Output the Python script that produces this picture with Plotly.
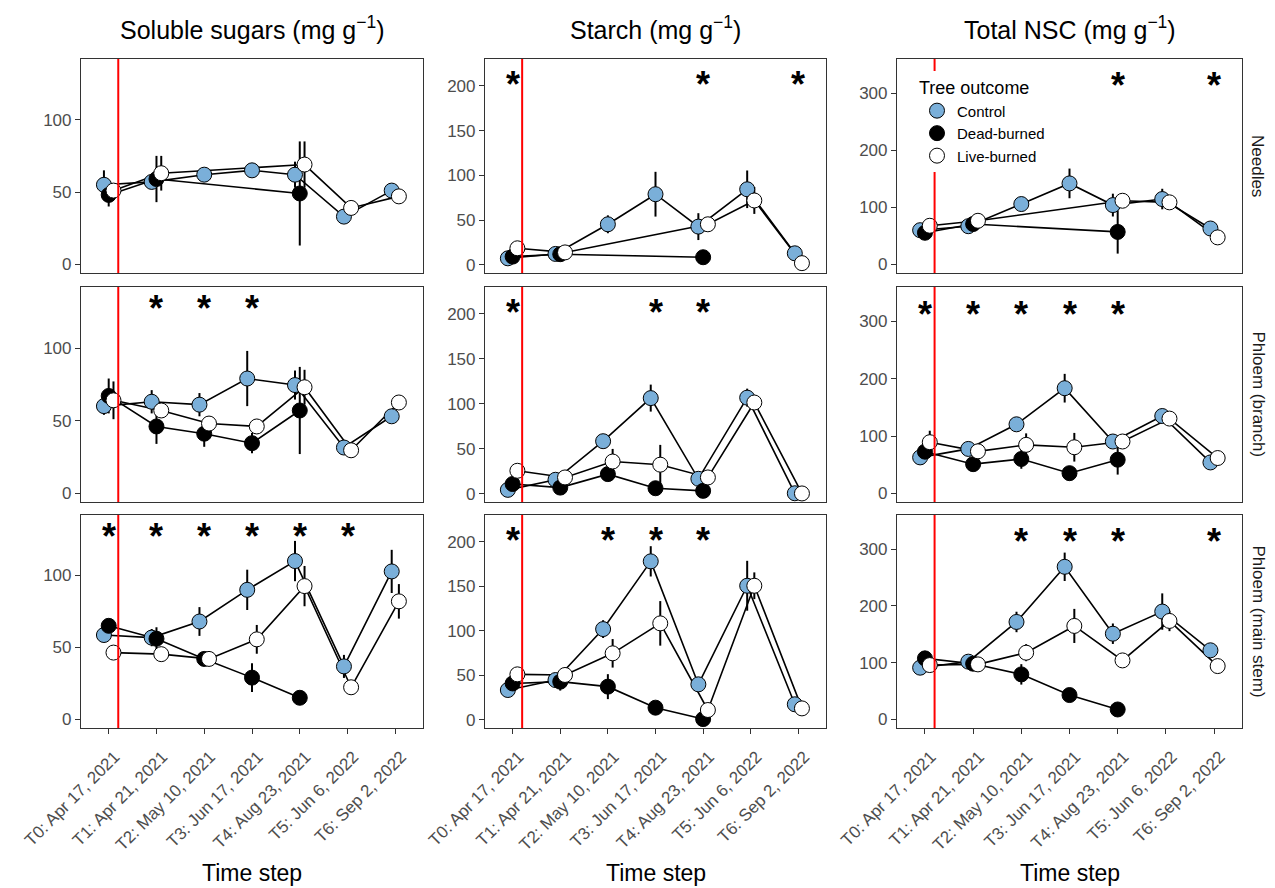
import plotly.graph_objects as go

# ---------------- data ----------------
time_labels = ["T0: Apr 17, 2021", "T1: Apr 21, 2021", "T2: May 10, 2021",
               "T3: Jun 17, 2021", "T4: Aug 23, 2021", "T5: Jun 6, 2022", "T6: Sep 2, 2022"]
groups = ["Control", "Dead-burned", "Live-burned"]
column_titles = ["Soluble sugars (mg g<sup>−1</sup>)", "Starch (mg g<sup>−1</sup>)",
                 "Total NSC (mg g<sup>−1</sup>)"]
row_labels = ["Needles", "Phloem (branch)", "Phloem (main stem)"]
fire_x = 1.2  # fire event between T0 and T1
N = None

# Soluble sugars (mean, SE)
sug_needles_control = [55, 57, 62, 65, 62, 33, 51]
sug_needles_control_se = [10, 5, 4, 4, 9, 4, 4]
sug_needles_dead = [48, 59, N, N, 49, N, N]
sug_needles_dead_se = [8, 16, N, N, 36, N, N]
sug_needles_live = [51, 63, N, N, 69, 39, 47]
sug_needles_live_se = [5, 12, N, N, 16, 4, 4]

sug_branch_control = [60, 63, 61, 79, 74.5, 31.5, 53]
sug_branch_control_se = [6, 8, 8, 19, 10, 3, 4]
sug_branch_dead = [67, 46, 41, 34.5, 57, N, N]
sug_branch_dead_se = [12, 12, 9, 7, 30, N, N]
sug_branch_live = [64, 57, 48, 46, 73, 29.6, 62.5]
sug_branch_live_se = [13, 5, 5, 5, 12, 3, 4]

sug_stem_control = [58.6, 56.8, 68, 90, 110, 36.8, 102.8]
sug_stem_control_se = [5, 6, 10, 14, 14, 8, 15]
sug_stem_dead = [65, 56, 42, 29, 15, N, N]
sug_stem_dead_se = [4, 8, 5, 10, 3, N, N]
sug_stem_live = [46.4, 45.3, 42, 55.6, 92.6, 22.3, 82]
sug_stem_live_se = [4, 4, 5, 10, 14, 4, 12]

# Starch
sta_needles_control = [7.4, 12.3, 45.4, 79, 42.8, 84.5, 13]
sta_needles_control_se = [3, 3, 10, 25, 15, 21, 4]
sta_needles_dead = [9.3, 12, N, N, 8.6, N, N]
sta_needles_dead_se = [3, 3, N, N, 3, N, N]
sta_needles_live = [18.6, 14, N, N, 45.4, 72, 2]
sta_needles_live_se = [4, 3, N, N, 6, 15, 2]

sta_branch_control = [4.5, 15.7, 58.6, 106.5, 16.8, 107, 0.7]
sta_branch_control_se = [3, 4, 5, 15, 4, 10, 0.5]
sta_branch_dead = [11, 7, 22, 6.3, 3.4, N, N]
sta_branch_dead_se = [3, 3, 5, 4, 2, N, N]
sta_branch_live = [25.7, 18.3, 36, 32.5, 18.3, 101.6, 0.5]
sta_branch_live_se = [4, 4, 14, 22, 4, 5, 0.5]

sta_stem_control = [33.6, 44.8, 102, 178, 40, 150.6, 17.6]
sta_stem_control_se = [4, 6, 10, 17, 5, 28, 4]
sta_stem_dead = [41, 43, 37.4, 13.8, 1, N, N]
sta_stem_dead_se = [5, 10, 14, 5, 2, N, N]
sta_stem_live = [51.2, 50.5, 74.8, 108.4, 11.2, 150.6, 13]
sta_stem_live_se = [5, 5, 16, 25, 5, 15, 3]

# Total NSC
nsc_needles_control = [60, 67, 105.8, 142, 104, 114.6, 63]
nsc_needles_control_se = [6, 8, 8, 26, 20, 18, 6]
nsc_needles_dead = [55.5, 70.8, N, N, 57, N, N]
nsc_needles_dead_se = [6, 8, N, N, 38, N, N]
nsc_needles_live = [67.8, 76.5, N, N, 111.6, 108.8, 47.4]
nsc_needles_live_se = [6, 8, N, N, 12, 12, 5]

nsc_branch_control = [62.8, 77.6, 120.5, 183.5, 90.5, 135, 54]
nsc_branch_control_se = [6, 8, 8, 25, 10, 8, 6]
nsc_branch_dead = [72.8, 51, 60, 35.3, 58.8, N, N]
nsc_branch_dead_se = [10, 6, 17, 6, 26, N, N]
nsc_branch_live = [89.3, 73.4, 84.7, 80.5, 90.5, 130.5, 61.7]
nsc_branch_live_se = [20, 6, 20, 25, 8, 6, 5]

nsc_stem_control = [91.2, 101.8, 171.7, 268.8, 151, 190, 121.8]
nsc_stem_control_se = [6, 6, 18, 25, 18, 32, 8]
nsc_stem_dead = [107.6, 98.2, 79.4, 43, 17.6, N, N]
nsc_stem_dead_se = [6, 6, 18, 6, 4, N, N]
nsc_stem_live = [95.8, 97, 117.6, 164.7, 104, 173.5, 94]
nsc_stem_live_se = [6, 6, 15, 30, 8, 18, 6]

# significance (time-step indices with *)
sig_sug_needles = []
sig_sug_branch = [1, 2, 3]
sig_sug_stem = [0, 1, 2, 3, 4, 5]
sig_sta_needles = [0, 4, 6]
sig_sta_branch = [0, 3, 4]
sig_sta_stem = [0, 2, 3, 4]
sig_nsc_needles = [4, 6]
sig_nsc_branch = [0, 1, 2, 3, 4]
sig_nsc_stem = [2, 3, 4, 6]
sig_label_y = [132, 209, 325]

# y scales per column
y_ranges = [[-6, 142], [-9, 230], [-15, 360]]
y_dticks = [50, 50, 100]
y_tick_max = [100, 200, 300]

# --------------- assemble ---------------
panels = {
    (0, 0): ([sug_needles_control, sug_needles_dead, sug_needles_live],
             [sug_needles_control_se, sug_needles_dead_se, sug_needles_live_se], sig_sug_needles),
    (1, 0): ([sug_branch_control, sug_branch_dead, sug_branch_live],
             [sug_branch_control_se, sug_branch_dead_se, sug_branch_live_se], sig_sug_branch),
    (2, 0): ([sug_stem_control, sug_stem_dead, sug_stem_live],
             [sug_stem_control_se, sug_stem_dead_se, sug_stem_live_se], sig_sug_stem),
    (0, 1): ([sta_needles_control, sta_needles_dead, sta_needles_live],
             [sta_needles_control_se, sta_needles_dead_se, sta_needles_live_se], sig_sta_needles),
    (1, 1): ([sta_branch_control, sta_branch_dead, sta_branch_live],
             [sta_branch_control_se, sta_branch_dead_se, sta_branch_live_se], sig_sta_branch),
    (2, 1): ([sta_stem_control, sta_stem_dead, sta_stem_live],
             [sta_stem_control_se, sta_stem_dead_se, sta_stem_live_se], sig_sta_stem),
    (0, 2): ([nsc_needles_control, nsc_needles_dead, nsc_needles_live],
             [nsc_needles_control_se, nsc_needles_dead_se, nsc_needles_live_se], sig_nsc_needles),
    (1, 2): ([nsc_branch_control, nsc_branch_dead, nsc_branch_live],
             [nsc_branch_control_se, nsc_branch_dead_se, nsc_branch_live_se], sig_nsc_branch),
    (2, 2): ([nsc_stem_control, nsc_stem_dead, nsc_stem_live],
             [nsc_stem_control_se, nsc_stem_dead_se, nsc_stem_live_se], sig_nsc_stem),
}

# --------------- style ---------------
OFF = 8                      # browser default body margin
W, H = 1275 - OFF, 888 - OFF
FONT = "Liberation Sans, Arial, sans-serif"
fills = {"Control": "#7AAFD9", "Dead-burned": "#000000", "Live-burned": "#FFFFFF"}
col_px = [(81, 423), (485, 826), (897, 1242)]   # page pixel positions
row_px = [(59, 273), (287, 502), (515, 728)]
dodge_width = 0.3
marker_size = 15


def px_x(v):
    return (v - OFF) / W


def px_y(v):
    return 1 - (v - OFF) / H


def dodge(means):
    offs = [[None] * len(time_labels) for _ in groups]
    for t in range(len(time_labels)):
        present = [g for g in range(len(groups)) if means[g][t] is not None]
        n = len(present)
        for k, g in enumerate(present):
            offs[g][t] = -dodge_width / 2 + dodge_width / n * (k + 0.5)
    return offs


fig = go.Figure()
layout = {}
annotations = []
shapes = []

for (r, c), (means, ses, sig) in panels.items():
    p = r * 3 + c + 1
    sfx = "" if p == 1 else str(p)
    xa, ya = "x" + sfx, "y" + sfx
    offs = dodge(means)
    pts = []
    for g, name in enumerate(groups):
        xs, ys, es = [], [], []
        for t in range(len(time_labels)):
            if means[g][t] is not None:
                xs.append(t + 1 + offs[g][t])
                ys.append(means[g][t])
                es.append(ses[g][t])
        pts.append((name, xs, ys, es))
    # lines + error bars
    for name, xs, ys, es in pts:
        fig.add_trace(go.Scatter(
            x=xs, y=ys, mode="lines", xaxis=xa, yaxis=ya, showlegend=False,
            line=dict(color="black", width=1.6),
            error_y=dict(type="data", array=es, visible=True, color="black",
                         thickness=2, width=0),
            hoverinfo="skip"))
    # points
    for name, xs, ys, es in pts:
        fig.add_trace(go.Scatter(
            x=xs, y=ys, mode="markers", xaxis=xa, yaxis=ya, showlegend=False,
            name=name,
            marker=dict(size=marker_size, color=fills[name],
                        line=dict(color="black", width=1))))
    vals = list(range(0, y_tick_max[c] + 1, y_dticks[c]))
    x0, x1 = col_px[c]
    yt, yb = row_px[r]
    layout["xaxis" + sfx] = dict(
        domain=[px_x(x0), px_x(x1)], anchor=ya, range=[0.42, 7.58], automargin=False,
        tickmode="array", tickvals=list(range(1, len(time_labels) + 1)),
        ticktext=time_labels, showticklabels=(r == 2),
        ticks="outside" if r == 2 else "", ticklen=5, tickwidth=1, tickcolor="#333333",
        tickangle=-45, tickfont=dict(family=FONT, size=17, color="#4D4D4D"),
        ticklabelstandoff=6, ticklabelshift=6,
        showgrid=False, zeroline=False, showline=True, mirror=True,
        linecolor="#333333", linewidth=1.2, fixedrange=True)
    layout["yaxis" + sfx] = dict(
        domain=[px_y(yb), px_y(yt)], anchor=xa, range=y_ranges[c], automargin=False,
        tickmode="array", tickvals=vals, ticktext=[str(v) for v in vals],
        ticks="outside", ticklen=5, tickwidth=1, tickcolor="#333333",
        tickfont=dict(family=FONT, size=17, color="#4D4D4D"),
        showgrid=False, zeroline=False, showline=True, mirror=True,
        linecolor="#333333", linewidth=1.2, fixedrange=True)
    # fire line
    shapes.append(dict(type="line", xref=xa, yref=ya + " domain", x0=fire_x, x1=fire_x,
                       y0=0, y1=1, line=dict(color="#FF0000", width=2), layer="above"))
    # significance asterisks
    for t in sig:
        annotations.append(dict(x=t + 1, y=sig_label_y[c], xref=xa, yref=ya, text="<b>*</b>",
                                showarrow=False, xanchor="center", yanchor="middle", yshift=-7,
                                font=dict(family=FONT, size=36, color="black")))

# column titles and x-axis titles
for c in range(3):
    cx = px_x((col_px[c][0] + col_px[c][1]) / 2)
    annotations.append(dict(x=cx, y=px_y(28), xref="paper", yref="paper",
                            text=column_titles[c], showarrow=False,
                            xanchor="center", yanchor="middle",
                            font=dict(family=FONT, size=25, color="black")))
    annotations.append(dict(x=cx, y=px_y(873), xref="paper", yref="paper",
                            text="Time step", showarrow=False,
                            xanchor="center", yanchor="middle",
                            font=dict(family=FONT, size=23, color="black")))
# strip labels
for r in range(3):
    cy = px_y((row_px[r][0] + row_px[r][1]) / 2)
    annotations.append(dict(x=px_x(1258), y=cy, xref="paper", yref="paper",
                            text=row_labels[r], showarrow=False, textangle=90,
                            xanchor="center", yanchor="middle",
                            font=dict(family=FONT, size=17, color="#1A1A1A")))

# legend entries
for name in groups:
    fig.add_trace(go.Scatter(
        x=[None], y=[None], mode="markers", name=name, showlegend=True,
        xaxis="x3", yaxis="y3",
        marker=dict(size=marker_size, color=fills[name], line=dict(color="black", width=1))))

fig.update_layout(
    width=W, height=H, margin=dict(l=0, r=0, t=0, b=0, autoexpand=False),
    paper_bgcolor="white", plot_bgcolor="white",
    font=dict(family=FONT),
    showlegend=True,
    legend=dict(x=px_x(917), y=px_y(71), xanchor="left", yanchor="top",
                bgcolor="white", borderwidth=0,
                title=dict(text="Tree outcome", font=dict(family=FONT, size=18, color="black")),
                font=dict(family=FONT, size=15, color="black"),
                tracegroupgap=0, itemsizing="trace"),
    annotations=annotations, shapes=shapes,
    **layout)

fig.write_html("out.html")
